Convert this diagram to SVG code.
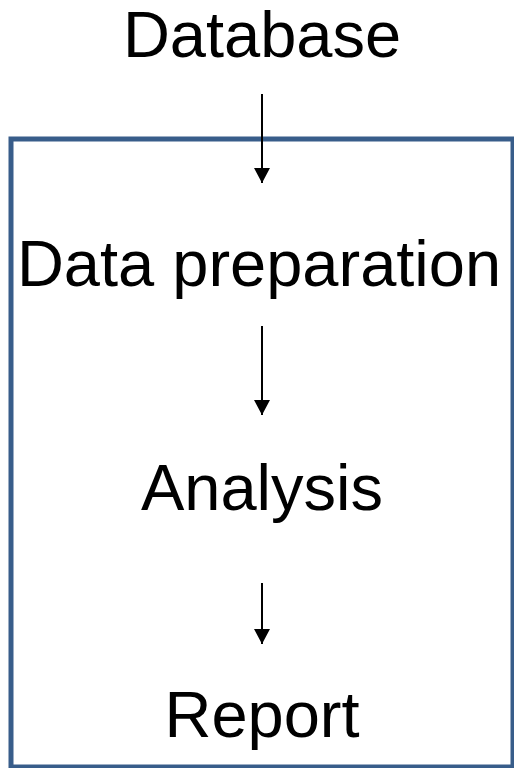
<svg xmlns="http://www.w3.org/2000/svg" width="514" height="768" viewBox="0 0 514 768">
<style>
.t{font-family:"Liberation Sans",Arial,sans-serif;font-size:65px;fill:#000;text-anchor:middle}
.c{stroke:#000;stroke-width:2;fill:none}
</style>
<defs>
<marker id="ah" markerUnits="userSpaceOnUse" markerWidth="16" markerHeight="16" refX="15" refY="8" orient="auto" viewBox="0 0 16 16">
<path d="M0,0 L15,8 L0,16 Z" fill="#000"/>
</marker>
</defs>
<rect x="0" y="0" width="514" height="768" fill="#fff"/>
<g id="box"><rect x="11" y="139" width="502" height="628" fill="none" stroke="#385D8A" stroke-width="5"/></g>
<g id="database"><text class="t" x="262" y="57">Database</text></g>
<g id="data-preparation"><text class="t" x="259" y="286">Data preparation</text></g>
<g id="analysis"><text class="t" x="262" y="510">Analysis</text></g>
<g id="report"><text class="t" x="262" y="737">Report</text></g>
<g id="connectors">
<line class="c" x1="262" y1="94" x2="262" y2="183" marker-end="url(#ah)"/>
<line class="c" x1="262" y1="326" x2="262" y2="415" marker-end="url(#ah)"/>
<line class="c" x1="262" y1="583" x2="262" y2="644" marker-end="url(#ah)"/>
</g>
</svg>
